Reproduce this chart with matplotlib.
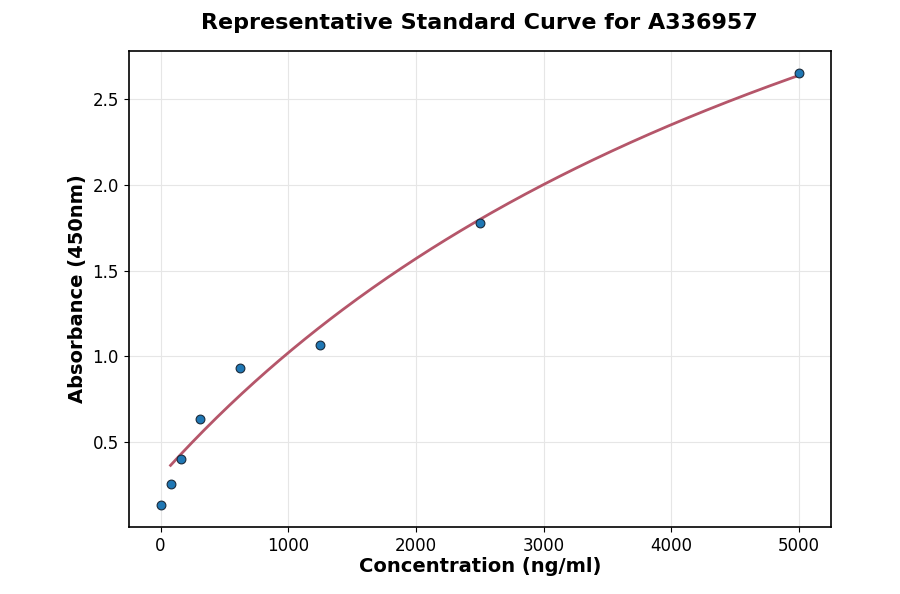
import numpy as np
import matplotlib
matplotlib.use("Agg")
import matplotlib.pyplot as plt

conc = np.array([0, 78, 156, 312, 625, 1250, 2500, 5000])
absorb = np.array([0.13, 0.255, 0.40, 0.634, 0.93, 1.066, 1.777, 2.655])


def four_pl(x, a, b, c, d):
    return d + (a - d) / (1.0 + (x / c) ** b)


def fit_4pl(x, y, p0, fixed=(), n_iter=800):
    # small Levenberg-Marquardt, no scipy here
    p = np.array(p0, dtype=float)
    free = [i for i in range(len(p)) if i not in fixed]
    lam = 1e-2
    r = y - four_pl(x, *p)
    cost = r @ r
    for _ in range(n_iter):
        J = np.empty((len(x), len(free)))
        for k, i in enumerate(free):
            dp = np.zeros_like(p)
            dp[i] = 1e-6 * max(abs(p[i]), 1e-3)
            J[:, k] = (four_pl(x, *(p + dp)) - four_pl(x, *p)) / dp[i]
        A = J.T @ J
        g = J.T @ r
        try:
            step = np.linalg.solve(A + lam * np.diag(np.diag(A)), g)
        except np.linalg.LinAlgError:
            lam *= 10
            continue
        pn = p.copy()
        pn[free] += step
        if pn[2] <= 0:
            lam *= 10
            continue
        rn = y - four_pl(x, *pn)
        cn = rn @ rn
        if np.isfinite(cn) and cn < cost:
            p, r, cost = pn, rn, cn
            lam /= 3
        else:
            lam *= 5
    return p


# fit on the non-zero standards, hill slope kept at 1
mask = conc > 0
params = fit_4pl(conc[mask], absorb[mask], [0.1, 1.0, 5000.0, 6.0], fixed=(1,))
xfit = np.linspace(conc[mask].min(), conc.max(), 300)
yfit = four_pl(xfit, *params)

fig, ax = plt.subplots(figsize=(9, 5.94), dpi=100)
ax.plot(xfit, yfit, color="#b5566a", linewidth=2, zorder=2)
ax.scatter(conc, absorb, s=40, color="#1f77b4", edgecolors="#1a2a3a",
           linewidths=0.8, zorder=3)
ax.set_title("Representative Standard Curve for A336957", fontsize=16,
             fontweight="bold", pad=16)
ax.set_xlabel("Concentration (ng/ml)", fontsize=14, fontweight="bold", labelpad=2)
ax.set_ylabel("Absorbance (450nm)", fontsize=14, fontweight="bold")
ax.grid(True, color="#e6e6e6", linewidth=0.8)
ax.set_axisbelow(True)
ax.tick_params(labelsize=12)
for s in ax.spines.values():
    s.set_linewidth(1.2)
plt.subplots_adjust(left=0.143, right=0.923, top=0.914, bottom=0.113)
plt.savefig("out.png", dpi=100)
